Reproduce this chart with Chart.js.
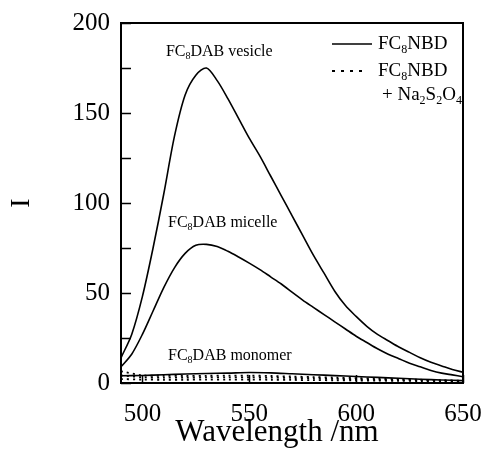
<!DOCTYPE html>
<html><head><meta charset="utf-8">
<script src="https://cdn.jsdelivr.net/npm/chart.js@4"></script>
<style>html,body{margin:0;padding:0;background:#fff}canvas{display:block}</style>
</head><body>
<canvas id="c" width="486" height="466" style="width:486px;height:466px"></canvas>
<script>
// ---- data ----
const wavelength = [490,495,500,505,510,515,520,525,530,535,540,545,550,555,560,565,570,575,580,585,590,595,600,605,610,615,620,625,630,635,640,645,650];
const vesicle = [14,27,48,75,105,137,160,171,175,168,158,147,136,126,115,104,93,82,71,61,51,43,37,31.5,27,23.5,20,17,14,11.5,9.5,7.5,6];
const micelle = [9,16,27,40,53,64,72,76.5,77,75.8,73.2,70,66.6,63,59,55,50.5,46,42,38,34,30,26,22.5,19,16,13.5,11,9,7,5.5,4.5,3.5];
const wavelengthCoarse = [490,500,510,520,530,540,550,560,570,580,590,600,610,620,630,640,650];
const monomer = [4,4.2,4.6,5,5.3,5.5,5.8,5.6,5.1,4.6,4.1,3.6,3.1,2.6,2.1,1.7,1.3];
const vesicleNa = [6.5,4.3,4,3.9,4,4.1,4.1,3.9,3.6,3.3,3,2.7,2.4,2.1,1.8,1.5,1.3];
const micelleNa = [4.2,3.2,3,3,3.1,3.1,3.1,3,2.8,2.6,2.3,2.1,1.9,1.7,1.5,1.3,1.1];
const monomerNa = [2.2,1.9,1.8,1.8,1.9,1.9,1.9,1.8,1.7,1.6,1.5,1.4,1.3,1.2,1.1,1,0.9];
const xTicks = [500,550,600,650];
const yTicks = [0,50,100,150,200];
const yMinorTicks = [25,75,125,175];
const xTitle = 'Wavelength /nm';
const curveLabels = [
  {parts:[['FC',0],['8',1],['DAB vesicle',0]], x:511, y:184},
  {parts:[['FC',0],['8',1],['DAB micelle',0]], x:512, y:89},
  {parts:[['FC',0],['8',1],['DAB monomer',0]], x:512, y:15}
];

const SERIF = '"Liberation Serif", "Times New Roman", serif';
const pts = (xs, ys) => xs.map((x, i) => ({x, y: ys[i]}));

function drawParts(ctx, x, y, parts, size) {
  let cx = x;
  ctx.textBaseline = 'middle';
  ctx.textAlign = 'left';
  for (const [t, sub] of parts) {
    ctx.font = (sub ? Math.round(size * 0.62) : size) + 'px ' + SERIF;
    ctx.fillText(t, cx, sub ? y + size * 0.3 : y);
    cx += ctx.measureText(t).width;
  }
  return cx;
}

const decor = {
  id: 'decor',
  afterDraw(chart) {
    const ctx = chart.ctx;
    const {left, right, top, bottom} = chart.chartArea;
    const xs = chart.scales.x, ys = chart.scales.y;
    ctx.save();
    ctx.strokeStyle = '#000';
    ctx.fillStyle = '#000';
    ctx.lineWidth = 2;
    ctx.strokeRect(left, top, right - left, bottom - top);
    ctx.lineWidth = 1.5;
    ctx.beginPath();
    for (const v of yTicks.concat(yMinorTicks)) {
      const py = Math.round(ys.getPixelForValue(v)) + 0.5;
      ctx.moveTo(left, py); ctx.lineTo(left + 10, py);
    }
    for (const v of xTicks) {
      const px = Math.round(xs.getPixelForValue(v)) + 0.5;
      ctx.moveTo(px, bottom); ctx.lineTo(px, bottom - 8);
    }
    ctx.stroke();
    for (const l of curveLabels) {
      drawParts(ctx, xs.getPixelForValue(l.x), ys.getPixelForValue(l.y), l.parts, 16);
    }
    // x-axis title
    ctx.font = '31px ' + SERIF;
    ctx.textAlign = 'center';
    ctx.textBaseline = 'middle';
    ctx.fillText(xTitle, (left + right) / 2 - 15, bottom + 50);
    // legend
    const lx0 = right - 131, lx1 = right - 91;
    ctx.lineWidth = 1.5;
    ctx.beginPath();
    ctx.moveTo(lx0, top + 21); ctx.lineTo(lx1, top + 21);
    ctx.stroke();
    drawParts(ctx, right - 85, top + 21, [['FC',0],['8',1],['NBD',0]], 19);
    ctx.setLineDash([3, 6]);
    ctx.lineWidth = 2;
    ctx.beginPath();
    ctx.moveTo(lx0, top + 48); ctx.lineTo(right - 100, top + 48);
    ctx.stroke();
    ctx.setLineDash([]);
    drawParts(ctx, right - 85, top + 48, [['FC',0],['8',1],['NBD',0]], 19);
    drawParts(ctx, right - 81, top + 72, [['+ Na',0],['2',1],['S',0],['2',1],['O',0],['4',1]], 19);
    ctx.restore();
  }
};

const solid = {borderColor:'#000', borderWidth:1.6, pointRadius:0, tension:0.3, fill:false};
const dotted = {borderColor:'#000', borderWidth:1.8, pointRadius:0, tension:0.3, borderDash:[2,4], fill:false};

new Chart(document.getElementById('c'), {
  type: 'line',
  data: {
    datasets: [
      Object.assign({label:'FC8DAB vesicle', data: pts(wavelength, vesicle)}, solid),
      Object.assign({label:'FC8DAB micelle', data: pts(wavelength, micelle)}, solid),
      Object.assign({label:'FC8DAB monomer', data: pts(wavelengthCoarse, monomer)}, solid),
      Object.assign({label:'vesicle + Na2S2O4', data: pts(wavelengthCoarse, vesicleNa)}, dotted),
      Object.assign({label:'micelle + Na2S2O4', data: pts(wavelengthCoarse, micelleNa)}, dotted),
      Object.assign({label:'monomer + Na2S2O4', data: pts(wavelengthCoarse, monomerNa)}, dotted)
    ]
  },
  options: {
    responsive: false,
    animation: false,
    devicePixelRatio: 1,
    layout: {padding: {top: 23, right: 23, left: 0, bottom: 0}},
    plugins: {legend: {display: false}, tooltip: {enabled: false}},
    scales: {
      x: {
        type: 'linear', min: 490, max: 650,
        afterBuildTicks: s => { s.ticks = xTicks.map(v => ({value: v})); },
        afterFit: s => { s.height = 83; s.paddingRight = 0; s.paddingLeft = 0; },
        grid: {display: false, drawTicks: false},
        border: {display: false},
        ticks: {color:'#000', padding: 16, maxRotation: 0, font: {family: SERIF, size: 25}},
        title: {display: false}
      },
      y: {
        type: 'linear', min: 0, max: 200,
        afterBuildTicks: s => { s.ticks = yTicks.map(v => ({value: v})); },
        afterFit: s => { s.width = 121; s.paddingTop = 0; s.paddingBottom = 0; },
        grid: {display: false, drawTicks: false},
        border: {display: false},
        ticks: {color:'#000', padding: 11, font: {family: SERIF, size: 25}},
        title: {display: true, text: 'I', color:'#000', font: {family: SERIF, size: 28}, padding: {top: 5, bottom: 0}}
      }
    }
  },
  plugins: [decor]
});
</script>
</body></html>
